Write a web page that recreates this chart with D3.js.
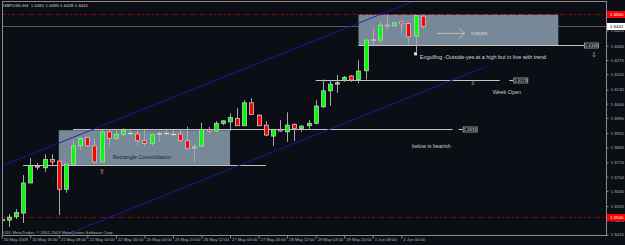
<!DOCTYPE html>
<html>
<head>
<meta charset="utf-8">
<script src="https://cdn.jsdelivr.net/npm/d3@7/dist/d3.min.js"></script>
<style>
	body { margin: 0; background: #0c0e16; }
	svg { display: block; font-family: "Liberation Sans", Arial, sans-serif; }
</style>
</head>
<body>
<svg id="chart" width="625" height="245"></svg>
<script>
var title = 'GBPUSD,H4  1.6491 1.6495 1.6428 1.6441';
var copyright = 'ODL MetaTrader, \u00a9 2001-2009 MetaQuotes Software Corp.';

// H4 candles, left to right
var opens  = [1.5490,1.5486,1.5503,1.5521,1.5669,1.5752,1.5744,1.5785,1.5777,1.5638,
              1.5762,1.5852,1.5894,1.5852,1.5773,1.5921,1.5889,1.5908,1.5913,1.5910,
              1.5877,1.5864,1.5911,1.5913,1.5908,1.5910,1.5877,1.5841,1.5851,1.5933,
              1.5926,1.5963,1.5970,1.5987,1.5951,1.6064,1.6003,1.5954,1.5900,1.5933,
              1.5921,1.5958,1.5938,1.5951,1.5963,1.6044,1.6123,1.6156,1.6173,1.6196,
              1.6179,1.6222,1.6373,1.6373,1.6447,1.6443,1.6463,1.6455,1.6393,1.6491];
var highs  = [1.5496,1.5516,1.5541,1.5708,1.5792,1.5767,1.5811,1.5811,1.5778,1.5762,
              1.5880,1.5897,1.5897,1.5890,1.5930,1.5933,1.5930,1.5938,1.5930,1.5930,
              1.5930,1.5913,1.5925,1.5930,1.5930,1.5930,1.5946,1.5864,1.5966,1.5946,
              1.5974,1.5979,1.6012,1.6038,1.6077,1.6086,1.6007,1.5974,1.5933,1.5979,
              1.6017,1.5963,1.5954,1.5979,1.6077,1.6179,1.6176,1.6200,1.6196,1.6200,
              1.6274,1.6373,1.6431,1.6468,1.6496,1.6463,1.6467,1.6455,1.6496,1.6495];
var lows   = [1.5476,1.5453,1.5491,1.5472,1.5669,1.5733,1.5724,1.5751,1.5511,1.5621,
              1.5762,1.5831,1.5847,1.5762,1.5773,1.5852,1.5880,1.5897,1.5905,1.5851,
              1.5851,1.5852,1.5872,1.5905,1.5897,1.5872,1.5840,1.5773,1.5851,1.5913,
              1.5921,1.5954,1.5926,1.5951,1.5951,1.6007,1.5951,1.5900,1.5851,1.5921,
              1.5872,1.5875,1.5921,1.5933,1.5958,1.6040,1.6049,1.6113,1.6168,1.6168,
              1.6160,1.6179,1.6348,1.6360,1.6426,1.6439,1.6409,1.6353,1.6315,1.6428];
var closes = [1.5483,1.5501,1.5524,1.5669,1.5754,1.5749,1.5785,1.5773,1.5638,1.5762,
              1.5852,1.5889,1.5852,1.5773,1.5921,1.5889,1.5908,1.5930,1.5913,1.5877,
              1.5864,1.5908,1.5913,1.5913,1.5908,1.5877,1.5840,1.5847,1.5933,1.5925,
              1.5963,1.5975,1.5992,1.5951,1.6064,1.6007,1.5951,1.5905,1.5933,1.5925,
              1.5954,1.5938,1.5949,1.5963,1.6048,1.6123,1.6156,1.6163,1.6189,1.6176,
              1.6220,1.6373,1.6373,1.6447,1.6442,1.6458,1.6453,1.6389,1.6493,1.6441];

var dateTicks  = [0,4,8,12,16,20,24,28,32,36,40,44,48,52,56];
var dateLabels = ['20 May 2009','20 May 16:00','21 May 08:00','22 May 00:00','22 May 16:00',
                  '25 May 04:00','25 May 20:00','26 May 12:00','27 May 04:00','27 May 20:00',
                  '28 May 12:00','29 May 04:00','29 May 20:00','1 Jun 08:00','2 Jun 00:00'];
var priceTicks = [1.6420,1.6345,1.6275,1.6205,1.6130,1.6060,1.5990,1.5915,1.5845,
                  1.5770,1.5700,1.5630,1.5555,1.5485,1.5415];

var bid = 1.6441;
var alertLevels = [1.6500, 1.5500];

// chart objects, in bar index / price
var boxes = [
	{ from: 8,  to: 32, top: 1.5929, bottom: 1.5758 },
	{ from: 50, to: 78, top: 1.6500, bottom: 1.6346 }
];
var levels = [
	{ price: 1.5933, from: 10, to: 63.2, tag: 64.6 },
	{ price: 1.5758, from: 3,  to: 37 },
	{ price: 1.6178, from: 44, to: 69.8, tag: 71.7 },
	{ price: 1.6348, from: 50, to: 81.6, tag: 81.6 }
];
var channel = [
	{ i1: 0, p1: 1.5753, i2: 60, p2: 1.6597 },
	{ i1: 8, p1: 1.5400, i2: 68, p2: 1.6244 }
];
var notes = [
	{ i: 15.55, p: 1.5796, text: 'Rectangle Consolidation', fill: '#1e2630' },
	{ i: 58.6,  p: 1.6291, text: 'Engulfing -Outside-yes at a high but in line with trend', fill: '#d8d8d8' },
	{ i: 65.8,  p: 1.6406, text: 'maybe', fill: '#d0d0d0' },
	{ i: 68.8,  p: 1.6119, text: 'Week Open', fill: '#c8c8c8' },
	{ i: 57.5,  p: 1.5853, text: 'below is bearish', fill: '#c8c8c8' }
];
var arrows = [
	{ i: 14.0, p: 1.5725, text: '\u21e7' },
	{ i: 66.0, p: 1.6165, text: '\u21e9' },
	{ i: 83.0, p: 1.6304, text: '\u21e9' }
];

var L = 2, T = 1, R = 606, B = 235;

var x = d3.scaleLinear().domain([0, 59]).range([1.7, 422.7]);
var y = d3.scaleLinear().domain([1.5500, 1.6500]).range([217.3, 14.3]);

var svg = d3.select('#chart');

svg.append('rect')
	.attr('width', 625)
	.attr('height', 245)
	.attr('fill', '#0c0e16');

svg.append('clipPath').attr('id', 'plot')
	.append('rect')
		.attr('x', L).attr('y', T)
		.attr('width', R - L).attr('height', B - T);

var plot = svg.append('g').attr('clip-path', 'url(#plot)');

// bid line
plot.append('line')
	.attr('x1', L).attr('x2', R)
	.attr('y1', Math.round(y(bid)) + 0.5).attr('y2', Math.round(y(bid)) + 0.5)
	.attr('stroke', '#5a5a5a');

plot.selectAll('rect.box')
		.data(boxes)
	.enter().append('rect')
		.attr('class', 'box')
		.attr('x', function(d) { return x(d.from); })
		.attr('y', function(d) { return y(d.top); })
		.attr('width', function(d) { return x(d.to) - x(d.from); })
		.attr('height', function(d) { return y(d.bottom) - y(d.top); })
		.attr('fill', '#778899');

plot.selectAll('line.alert')
		.data(alertLevels)
	.enter().append('line')
		.attr('class', 'alert')
		.attr('x1', L).attr('x2', R)
		.attr('y1', function(d) { return Math.round(y(d)) + 0.5; })
		.attr('y2', function(d) { return Math.round(y(d)) + 0.5; })
		.attr('stroke', '#a00000')
		.attr('stroke-dasharray', '4,2,1,2');

plot.selectAll('line.level')
		.data(levels)
	.enter().append('line')
		.attr('class', 'level')
		.attr('x1', function(d) { return x(d.from); })
		.attr('x2', function(d) { return x(d.to); })
		.attr('y1', function(d) { return Math.round(y(d.price)) + 0.5; })
		.attr('y2', function(d) { return Math.round(y(d.price)) + 0.5; })
		.attr('stroke', '#c4c4c4');

plot.selectAll('line.channel')
		.data(channel)
	.enter().append('line')
		.attr('class', 'channel')
		.attr('x1', function(d) { return x(d.i1); })
		.attr('y1', function(d) { return y(d.p1); })
		.attr('x2', function(d) { return x(d.i2); })
		.attr('y2', function(d) { return y(d.p2); })
		.attr('stroke', '#1a1aa8')
		.attr('stroke-width', 0.9);

// candles
var bars = d3.range(opens.length).map(function(i) {
	return { i: i, o: opens[i], h: highs[i], l: lows[i], c: closes[i] };
});

var candle = plot.selectAll('g.candle')
		.data(bars)
	.enter().append('g')
		.attr('class', 'candle');

candle.append('line')
	.attr('x1', function(d) { return Math.round(x(d.i)) + 0.5; })
	.attr('x2', function(d) { return Math.round(x(d.i)) + 0.5; })
	.attr('y1', function(d) { return y(d.h); })
	.attr('y2', function(d) { return y(d.l); })
	.attr('stroke', '#a8a8a8');

candle.filter(function(d) { return d.o !== d.c; })
	.append('rect')
		.attr('x', function(d) { return Math.round(x(d.i)) - 1.5; })
		.attr('width', 4)
		.attr('y', function(d) { return y(Math.max(d.o, d.c)); })
		.attr('height', function(d) { return Math.max(1, Math.abs(y(d.o) - y(d.c))); })
		.attr('fill', function(d) { return d.c > d.o ? '#00ff00' : '#ff0000'; })
		.attr('stroke', '#c8c8c8')
		.attr('stroke-width', 0.8);

candle.filter(function(d) { return d.o === d.c; })
	.append('line')
		.attr('x1', function(d) { return Math.round(x(d.i)) - 2; })
		.attr('x2', function(d) { return Math.round(x(d.i)) + 3; })
		.attr('y1', function(d) { return y(d.c); })
		.attr('y2', function(d) { return y(d.c); })
		.attr('stroke', '#e0e0e0');

// arrow marker under the engulfing bar
plot.append('rect')
	.attr('x', x(58) - 1.5)
	.attr('y', y(lows[58]) + 0.5)
	.attr('width', 3).attr('height', 3)
	.attr('fill', '#e8e8e8');

// "maybe" arrow
var ay = y(1.6406);
plot.append('path')
	.attr('d', 'M' + x(61) + ',' + ay + 'H' + x(64.9) +
		'M' + (x(64.9) - 6) + ',' + (ay - 5) + 'L' + x(64.9) + ',' + ay + 'L' + (x(64.9) - 6) + ',' + (ay + 5))
	.attr('fill', 'none')
	.attr('stroke', '#c8c8c8')
	.attr('stroke-width', 0.8);

plot.selectAll('text.note')
		.data(notes)
	.enter().append('text')
		.attr('class', 'note')
		.attr('x', function(d) { return x(d.i); })
		.attr('y', function(d) { return y(d.p); })
		.attr('dy', '0.35em')
		.attr('font-size', 5.4)
		.attr('fill', function(d) { return d.fill; })
		.text(function(d) { return d.text; });

plot.selectAll('text.arrow')
		.data(arrows)
	.enter().append('text')
		.attr('class', 'arrow')
		.attr('x', function(d) { return x(d.i); })
		.attr('y', function(d) { return y(d.p); })
		.attr('dy', '0.35em')
		.attr('text-anchor', 'middle')
		.attr('font-size', 7)
		.attr('fill', '#b8b8b8')
		.text(function(d) { return d.text; });

// price tags on the drawn levels
var tagged = levels.filter(function(d) { return d.tag !== undefined; });
var tag = plot.selectAll('g.tag')
		.data(tagged)
	.enter().append('g')
		.attr('class', 'tag')
		.attr('transform', function(d) { return 'translate(' + x(d.tag) + ',' + (Math.round(y(d.price)) + 0.5) + ')'; });
tag.append('line')
	.attr('x1', -4).attr('x2', 0)
	.attr('stroke', '#c4c4c4');
tag.append('rect')
	.attr('x', 0.5).attr('y', -2.5)
	.attr('width', 14).attr('height', 5)
	.attr('fill', '#0c0e16')
	.attr('stroke', '#c4c4c4')
	.attr('stroke-width', 0.7);
tag.append('text')
	.attr('x', 7.5).attr('dy', '0.35em')
	.attr('text-anchor', 'middle')
	.attr('font-size', 4.2)
	.attr('fill', '#e0e0e0')
	.text(function(d) { return d3.format('.4f')(d.price); });

// frame
svg.append('rect')
	.attr('x', L + 0.5).attr('y', T + 0.5)
	.attr('width', R - L).attr('height', B - T)
	.attr('fill', 'none')
	.attr('stroke', '#8c8c8c');

// price axis
var yAxis = svg.append('g')
	.attr('transform', 'translate(' + (R + 0.5) + ',0)')
	.call(d3.axisRight(y).tickValues(priceTicks).tickSize(2).tickPadding(2).tickFormat(d3.format('.4f')));
yAxis.select('.domain').remove();
yAxis.selectAll('line').attr('stroke', '#8c8c8c');
yAxis.selectAll('text')
	.attr('font-size', 4.4)
	.attr('font-family', '"Liberation Sans", Arial, sans-serif')
	.attr('fill', '#b4b4b4');

var axisTags = [
	{ p: alertLevels[0], fill: '#ff0000', color: '#ffffff' },
	{ p: bid, fill: '#ffffff', color: '#000000' },
	{ p: alertLevels[1], fill: '#ff0000', color: '#ffffff' }
];
var at = svg.selectAll('g.axistag')
		.data(axisTags)
	.enter().append('g')
		.attr('class', 'axistag')
		.attr('transform', function(d) { return 'translate(' + (R + 1) + ',' + (Math.round(y(d.p)) + 0.5) + ')'; });
at.append('rect')
	.attr('x', 0).attr('y', -3.5)
	.attr('width', 18).attr('height', 7)
	.attr('fill', function(d) { return d.fill; });
at.append('text')
	.attr('x', 3).attr('dy', '0.35em')
	.attr('font-size', 4.4)
	.attr('fill', function(d) { return d.color; })
	.text(function(d) { return d3.format('.4f')(d.p); });

// time axis
var xAxis = svg.append('g')
	.attr('transform', 'translate(0,' + (B + 0.5) + ')')
	.call(d3.axisBottom(x).tickValues(dateTicks).tickSize(3).tickPadding(1)
		.tickFormat(function(d, i) { return dateLabels[i]; }));
xAxis.select('.domain').remove();
xAxis.selectAll('line').attr('stroke', '#8c8c8c');
xAxis.selectAll('text')
	.attr('text-anchor', 'start')
	.attr('x', 1.5)
	.attr('y', 2.5)
	.attr('dy', '0.71em')
	.attr('font-size', 4.2)
	.attr('font-family', '"Liberation Sans", Arial, sans-serif')
	.attr('fill', '#b4b4b4');

svg.append('text')
	.attr('x', 3).attr('y', 6.5)
	.attr('font-size', 4.4)
	.attr('fill', '#d0d0d0')
	.attr('xml:space', 'preserve')
	.text(title);

svg.append('text')
	.attr('x', 3).attr('y', 234)
	.attr('font-size', 4.2)
	.attr('fill', '#b4b4b4')
	.text(copyright);
</script>
</body>
</html>
